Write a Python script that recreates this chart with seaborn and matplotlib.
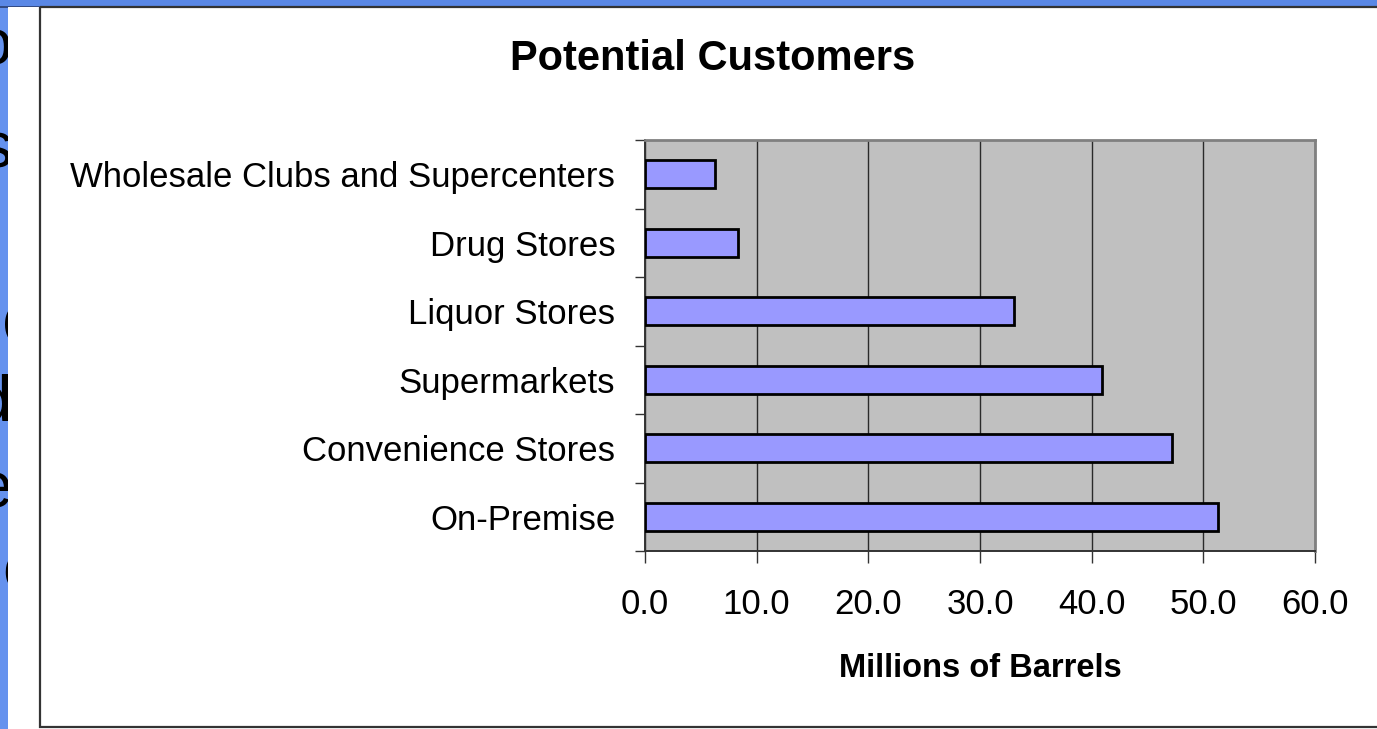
import matplotlib
matplotlib.use("Agg")
import matplotlib.pyplot as plt
from matplotlib.patches import Rectangle
from matplotlib.ticker import FixedLocator, MultipleLocator, FormatStrFormatter
import seaborn as sns
import pandas as pd

# Sales channels and volume (millions of barrels)
channels = [
    "Wholesale Clubs and Supercenters",
    "Drug Stores",
    "Liquor Stores",
    "Supermarkets",
    "Convenience Stores",
    "On-Premise",
]
barrels = [6.3, 8.3, 33.0, 40.9, 47.2, 51.3]

title_text = "Potential Customers"
x_label = "Millions of Barrels"

df = pd.DataFrame({"channel": channels, "barrels": barrels})

sns.set_theme(style="white")
plt.rcParams["font.family"] = ["Liberation Sans", "DejaVu Sans"]
plt.rcParams["text.color"] = "black"
plt.rcParams["xtick.color"] = "black"
plt.rcParams["ytick.color"] = "black"
plt.rcParams["axes.labelcolor"] = "black"

W, H = 1377, 729
fig = plt.figure(figsize=(W / 100, H / 100), dpi=100)
fig.patch.set_facecolor("#6592EE")

# Slide backdrop: blue border, clipped slide lettering, white panel and frame
bg = fig.add_axes([0, 0, 1, 1], zorder=-1)
bg.set_xlim(0, W)
bg.set_ylim(H, 0)
bg.axis("off")
bg.add_patch(Rectangle((0, 0), W, 6, facecolor="#5A88E6", edgecolor="none", zorder=0))
bg.plot([0, W], [6.5, 6.5], color="#2B3E70", lw=1.2, zorder=0.5)
for ch, y, x, ha, weight in [
    ("o", 47, 12, "right", "normal"),
    ("s", 150, 12, "right", "normal"),
    ("O", 330, 2, "left", "normal"),
    ("d", 403, 14, "right", "bold"),
    ("e", 490, 12, "right", "normal"),
    ("c", 572, 2, "left", "normal"),
]:
    bg.text(x, y, ch, fontsize=46, ha=ha, va="center", color="black",
            fontweight=weight, zorder=1)
bg.add_patch(Rectangle((8, 7), W - 8, H - 7, facecolor="white", edgecolor="none", zorder=2))
bg.add_patch(Rectangle((40, 7), W, 720, facecolor="none", edgecolor="#333333",
                       lw=1.6, zorder=3))

# Chart area
left, right, top, bottom = 645, 1315, 140, 551
ax = fig.add_axes([left / W, 1 - bottom / H, (right - left) / W, (bottom - top) / H], zorder=1)
ax.set_facecolor("#C0C0C0")

sns.barplot(data=df, x="barrels", y="channel", order=channels, orient="h",
            color="#9999FF", saturation=1, width=0.41,
            edgecolor="black", linewidth=2.0, ax=ax, zorder=3)

ax.set_xlim(0, 60)
ax.set_ylim(len(channels) - 0.5, -0.5)
ax.xaxis.set_major_locator(MultipleLocator(10))
ax.xaxis.set_major_formatter(FormatStrFormatter("%.1f"))
ax.grid(axis="x", color="#2A2A2A", lw=1.0, zorder=1)
ax.grid(axis="y", visible=False)
ax.set_axisbelow(True)

# Category labels at bar centres, tick marks at category boundaries
ax.yaxis.set_minor_locator(FixedLocator([i - 0.5 for i in range(len(channels) + 1)]))
ax.tick_params(axis="y", which="major", length=0, pad=21.5, labelsize=25)
ax.tick_params(axis="y", which="minor", length=7.5, width=1.0, color="#333333", left=True)
ax.tick_params(axis="x", which="major", length=8.5, width=1.0, color="#333333",
               pad=18.5, labelsize=25, bottom=True)

for side in ["top", "right"]:
    ax.spines[side].set_color("#808080")
    ax.spines[side].set_linewidth(2)
for side in ["left", "bottom"]:
    ax.spines[side].set_color("#333333")
    ax.spines[side].set_linewidth(1.4)

ax.set_ylabel("")
ax.set_xlabel(x_label, fontsize=23.5, fontweight="bold", labelpad=23)

fig.text(713 / W, 1 - 59 / H, title_text, fontsize=30, fontweight="bold",
         ha="center", va="center")

fig.savefig("out.png", dpi=100)
